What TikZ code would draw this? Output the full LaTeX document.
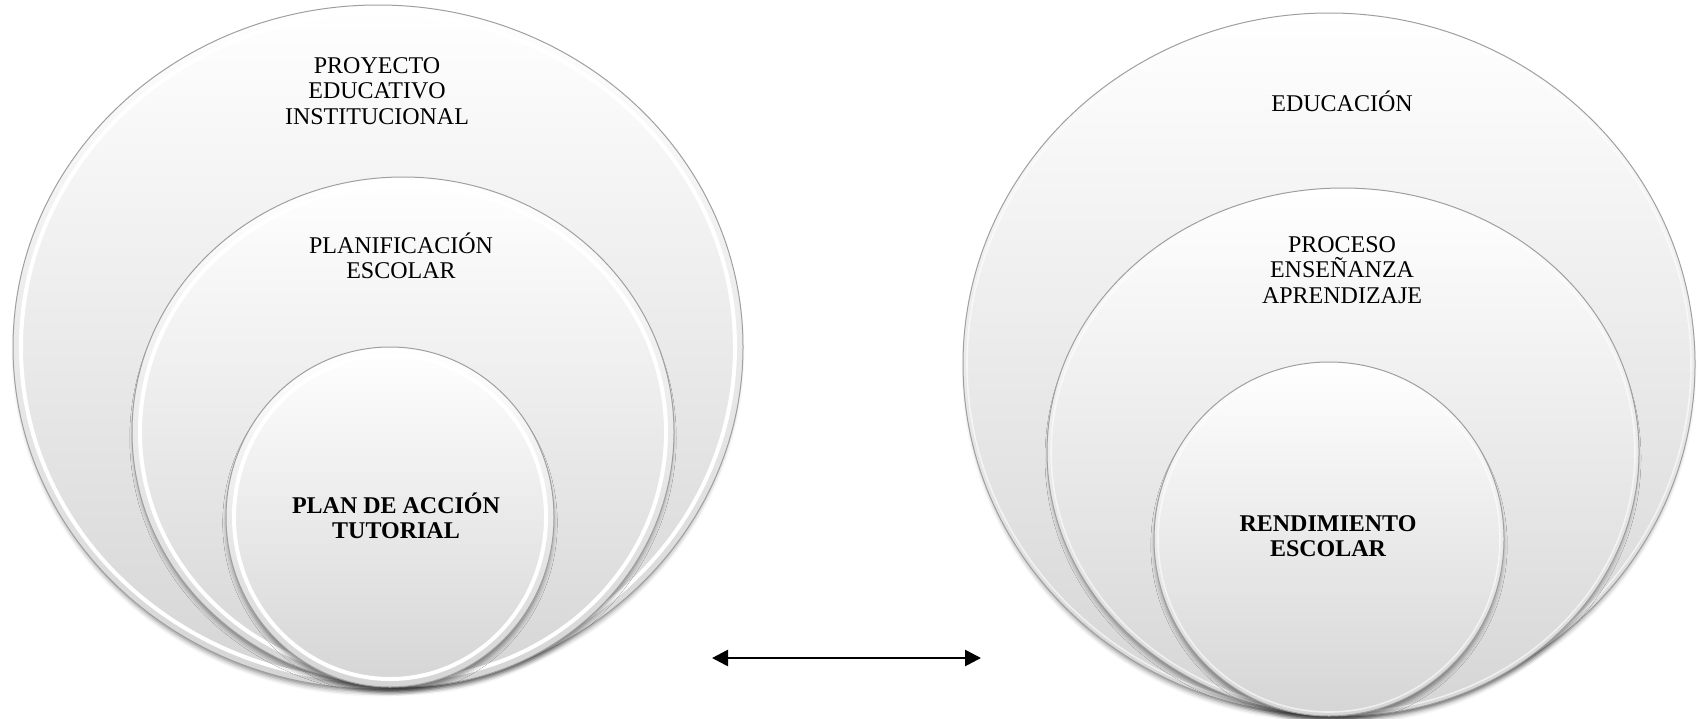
\documentclass[tikz,border=0pt]{standalone}
\usepackage{fontspec}
\setmainfont{Liberation Serif}
\usetikzlibrary{shapes.geometric,shadows.blur,arrows.meta}
\begin{document}
\begin{tikzpicture}[x=0.5pt,y=-0.5pt,
  ring/.style={ellipse, draw=gray!75, line width=0.5pt, inner sep=0pt,
    top color=white, bottom color=gray!33,
    blur shadow={shadow xshift=0pt, shadow yshift=-3pt, shadow scale=0.99, shadow blur radius=2.5pt, shadow opacity=50}},
  rim/.style={draw=white, line width=2pt},
  softrim/.style={draw=white, line width=0.8pt, opacity=0.6},
  lbl/.style={align=center, font=\fontsize{12}{12.7}\selectfont, inner sep=0pt},
  blbl/.style={lbl, font=\fontsize{12}{12.7}\selectfont\bfseries},
  link/.style={line width=1.3pt, {Triangle[length=8pt,width=8pt]}-{Triangle[length=8pt,width=8pt]}}]
\useasboundingbox (0,0) rectangle (1700,718);
% left group
\node[ring, minimum width=365pt, minimum height=342pt] (pei) at (378,347) {};
\draw[rim] (pei.center) ellipse [x radius=178.5pt, y radius=167pt];
\node[ring, minimum width=271pt, minimum height=255pt] (plan) at (403,432) {};
\draw[rim] (plan.center) ellipse [x radius=131.5pt, y radius=123.5pt];
\node[ring, minimum width=164pt, minimum height=170pt] (pat) at (390,517) {};
\draw[rim] (pat.center) ellipse [x radius=78pt, y radius=81pt];
% right group
\node[ring, minimum width=366pt, minimum height=351pt] (edu) at (1329,364) {};
\draw[softrim] (edu.center) ellipse [x radius=181pt, y radius=173.5pt];
\node[ring, minimum width=296pt, minimum height=264pt] (pea) at (1343,452) {};
\draw[softrim] (pea.center) ellipse [x radius=146pt, y radius=130pt];
\node[ring, minimum width=175pt, minimum height=177pt] (ren) at (1329,539) {};
\draw[softrim] (ren.center) ellipse [x radius=85.5pt, y radius=86.5pt];
% labels
\node[lbl] (tpei) at (377,91) {PROYECTO\\EDUCATIVO\\INSTITUCIONAL};
\node[lbl] (tplan) at (401,256) {PLANIFICACIÓN\\ESCOLAR};
\node[blbl] (tpat) at (396,516) {PLAN DE ACCIÓN\\TUTORIAL};
\node[lbl] (tedu) at (1342,101) {EDUCACIÓN};
\node[lbl] (tpea) at (1342,270) {PROCESO\\ENSEÑANZA\\APRENDIZAJE};
\node[blbl] (tren) at (1328,536) {RENDIMIENTO\\ESCOLAR};
% arrow
\coordinate (aL) at (712,658);
\coordinate (aR) at (981,658);
\draw[link] (aL) -- (aR);
\end{tikzpicture}
\end{document}
